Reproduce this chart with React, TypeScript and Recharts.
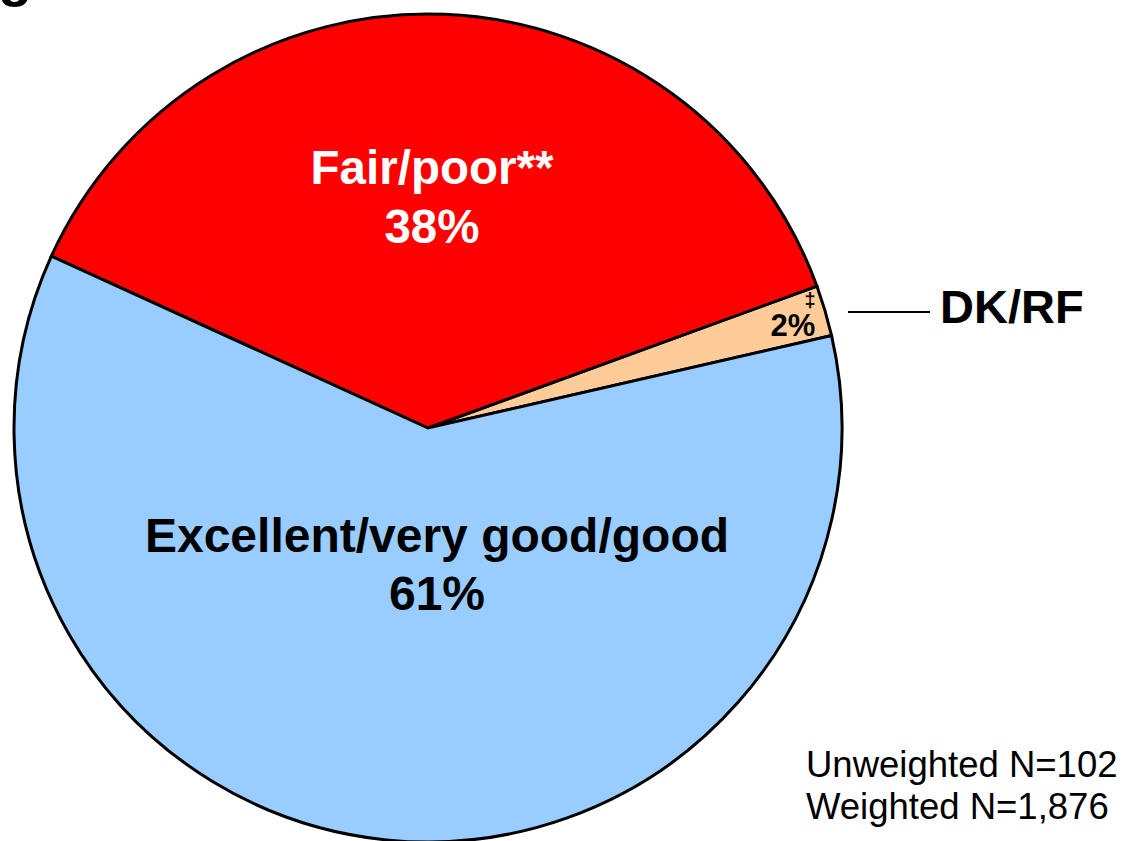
import React from 'react';
import { PieChart, Pie, Cell } from 'recharts';

const categories = ['DK/RF', 'Fair/poor**', 'Excellent/very good/good'];
const values = [2, 38, 61];
const valueLabels = ['2%', '38%', '61%'];
const colors = ['#FFCC99', '#FF0000', '#99CCFF'];
const footnoteMark = '\u2021';
const notes = ['Unweighted N=102', 'Weighted N=1,876'];

const data = categories.map((name, i) => ({ name, value: values[i], pct: valueLabels[i] }));

const FONT = '"Liberation Sans", Arial, Helvetica, sans-serif';

const renderLabel = (props: any) => {
  const { cx, cy, index } = props;
  const d = data[index];
  if (index === 1) {
    return (
      <g>
        <text x={cx + 4} y={cy - 244} textAnchor="middle" fill="#FFFFFF" fontFamily={FONT} fontWeight="bold" fontSize={47.5}>{d.name}</text>
        <text x={cx + 4} y={cy - 185} textAnchor="middle" fill="#FFFFFF" fontFamily={FONT} fontWeight="bold" fontSize={47.5}>{d.pct}</text>
      </g>
    );
  }
  if (index === 2) {
    return (
      <g>
        <text x={cx + 9} y={cy + 124} textAnchor="middle" fill="#000000" fontFamily={FONT} fontWeight="bold" fontSize={48}>{d.name}</text>
        <text x={cx + 9} y={cy + 182} textAnchor="middle" fill="#000000" fontFamily={FONT} fontWeight="bold" fontSize={48}>{d.pct}</text>
      </g>
    );
  }
  return (
    <g>
      <text x={cx + 365} y={cy - 92} textAnchor="middle" fill="#000000" fontFamily={FONT} fontWeight="bold" fontSize={31}>{d.pct}</text>
      <text x={cx + 382} y={cy - 121} textAnchor="middle" fill="#000000" fontFamily={FONT} fontWeight="bold" fontSize={20}>{footnoteMark}</text>
      <line x1={cx + 420} y1={cy - 116} x2={cx + 502} y2={cy - 116} stroke="#000000" strokeWidth={2} />
      <text x={cx + 512} y={cy - 105} textAnchor="start" fill="#000000" fontFamily={FONT} fontWeight="bold" fontSize={47}>{d.name}</text>
    </g>
  );
};

export default function App() {
  return (
    <div style={{ position: 'absolute', left: 0, top: 0, width: 1125, height: 841, background: '#FFFFFF', overflow: 'hidden' }}>
      <PieChart width={1125} height={841} margin={{ top: 0, right: 0, bottom: 0, left: 0 }}>
        <Pie
          data={data}
          dataKey="value"
          nameKey="name"
          cx={428}
          cy={428}
          outerRadius={414}
          innerRadius={0}
          startAngle={12.9}
          endAngle={372.9}
          paddingAngle={0}
          label={renderLabel}
          labelLine={false}
          isAnimationActive={false}
        >
          {data.map((d, i) => (
            <Cell key={d.name} fill={colors[i]} stroke="#000000" strokeWidth={3} />
          ))}
        </Pie>
      </PieChart>
      <svg width={1125} height={841} style={{ position: 'absolute', left: 0, top: 0, pointerEvents: 'none' }}>
        <text x={-2} y={-5} fontFamily={FONT} fontWeight="bold" fontSize={56} fill="#000000">g</text>
        {notes.map((n, i) => (
          <text key={n} x={806} y={777 + i * 42} fontFamily={FONT} fontSize={36.5} fill="#000000">{n}</text>
        ))}
      </svg>
    </div>
  );
}
